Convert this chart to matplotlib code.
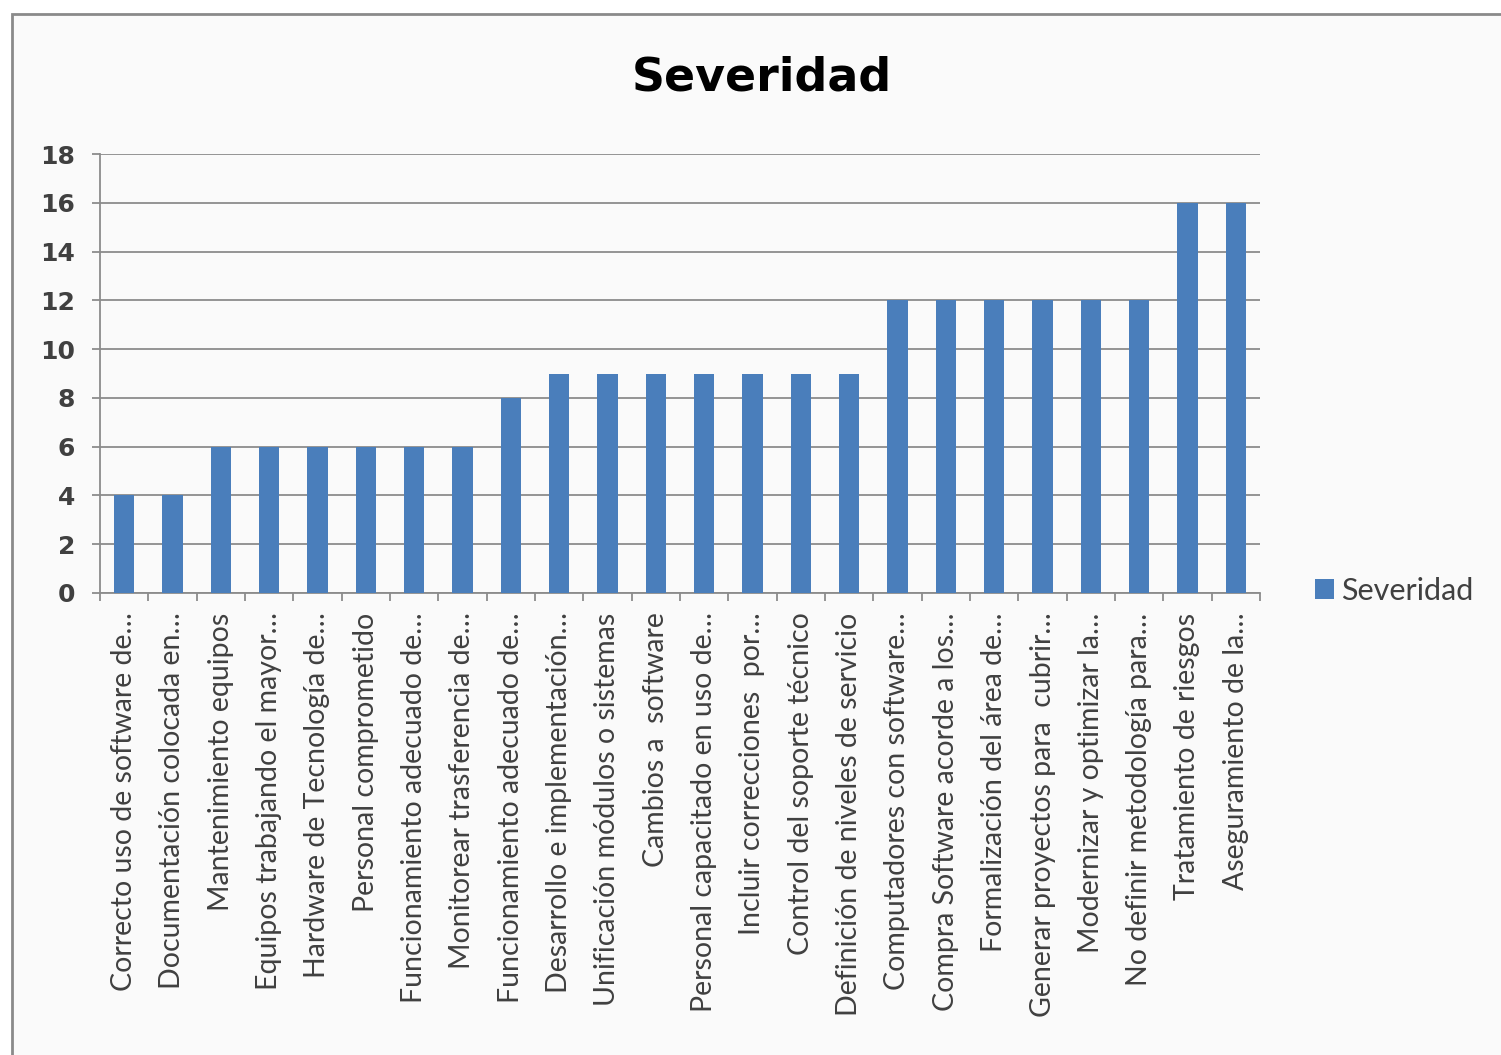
import matplotlib
matplotlib.use("Agg")
import matplotlib.pyplot as plt
from matplotlib.patches import Rectangle, Patch
import numpy as np

# ---------------- data ----------------
categorias = [
    "Correcto uso de software de…",
    "Documentación colocada en…",
    "Mantenimiento equipos",
    "Equipos trabajando el mayor…",
    "Hardware de Tecnología de…",
    "Personal comprometido",
    "Funcionamiento adecuado de…",
    "Monitorear trasferencia de…",
    "Funcionamiento adecuado de…",
    "Desarrollo e implementación…",
    "Unificación módulos o sistemas",
    "Cambios a  software",
    "Personal capacitado en uso de…",
    "Incluir correcciones  por…",
    "Control del soporte técnico",
    "Definición de niveles de servicio",
    "Computadores con software…",
    "Compra Software acorde a los…",
    "Formalización del área de…",
    "Generar proyectos para  cubrir…",
    "Modernizar y optimizar la…",
    "No definir metodología para…",
    "Tratamiento de riesgos",
    "Aseguramiento de la…",
]
severidad = [4, 4, 6, 6, 6, 6, 6, 6, 8, 9, 9, 9, 9, 9, 9, 9,
             12, 12, 12, 12, 12, 12, 16, 16]
yticks = [0, 2, 4, 6, 8, 10, 12, 14, 16, 18]

BAR = "#4a7ebb"
GRID = "#8c8c8c"
TXT = "#404040"

W, H = 1501, 1055
fig = plt.figure(figsize=(W / 100, H / 100), dpi=100, facecolor="white")

# chart frame (runs off right / bottom like the screenshot)
fig.patches.append(Rectangle((12 / W, -0.05), 1.1, 1 - 14 / H + 0.05,
                             transform=fig.transFigure, facecolor="#fafafa",
                             edgecolor="#8a8a8a", lw=2, zorder=-10))

ax = fig.add_axes([100 / W, 1 - 593 / H, 1160 / W, (593 - 154) / H])
ax.set_facecolor("none")

x = np.arange(len(categorias))
ax.bar(x, severidad, width=0.42, color=BAR, zorder=3, label="Severidad")

ax.set_xlim(-0.5, len(categorias) - 0.5)
ax.set_ylim(0, 18)
ax.set_yticks(yticks)
ax.yaxis.grid(True, color=GRID, lw=1.3, zorder=0)
ax.tick_params(axis="y", length=6, color=GRID, width=1.3, labelsize=18,
               labelcolor=TXT, pad=12)
for lab in ax.get_yticklabels():
    lab.set_fontweight("semibold")

ax.set_xticks(x)
ax.set_xticklabels(categorias, rotation=90, fontsize=20.5, family="Lato",
                   color=TXT, ha="center", va="top")
ax.set_xticks(np.arange(len(categorias) + 1) - 0.5, minor=True)
ax.tick_params(axis="x", which="major", length=0, pad=14)
ax.tick_params(axis="x", which="minor", length=6, color=GRID, width=1.3)

for s in ["top", "right"]:
    ax.spines[s].set_visible(False)
for s in ["left", "bottom"]:
    ax.spines[s].set_color(GRID)
    ax.spines[s].set_linewidth(1.3)

fig.text(762 / W, 1 - 78 / H, "Severidad", ha="center", va="center",
         fontsize=33, fontweight="bold", color="black")

fig.legend(handles=[Patch(facecolor=BAR, label="Severidad")],
           loc="center left", bbox_to_anchor=(1315 / W, 1 - 591 / H),
           frameon=False, borderpad=0, borderaxespad=0,
           handlelength=0.62, handleheight=0.62,
           handletextpad=0.22, prop={"family": "Lato", "size": 22},
           labelcolor=TXT)

fig.savefig("out.png", dpi=100, facecolor="white")
